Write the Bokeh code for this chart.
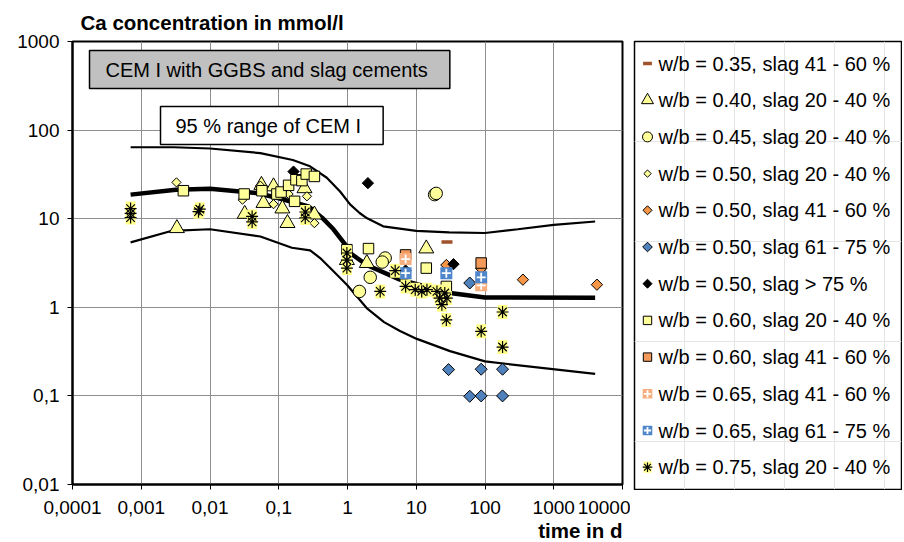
import numpy as np
from bokeh.plotting import figure
from bokeh.models import FixedTicker, Label, Title, Range1d
from bokeh.layouts import row
from bokeh.core.properties import value
from bokeh.embed import file_html
from bokeh.resources import INLINE

FONT = "Liberation Sans"

# ---------------- data ----------------
x_ticks = [0.0001, 0.001, 0.01, 0.1, 1, 10, 100, 1000, 10000]
x_tick_keys = ["0.0001", "0.001", "0.01", "0.1", "1", "10", "100", "1000", "10000"]
x_tick_labels = ["0,0001", "0,001", "0,01", "0,1", "1", "10", "100", "1000", "10000"]
y_ticks = [0.01, 0.1, 1, 10, 100, 1000]
y_tick_keys = ["0.01", "0.1", "1", "10", "100", "1000"]
y_tick_labels = ["0,01", "0,1", "1", "10", "100", "1000"]

# 95 % range of CEM I (upper, median, lower)
upper_x = [0.0007, 0.003, 0.01, 0.054, 0.16, 0.285, 0.5, 0.78, 1.09, 1.5, 1.93, 3.3, 10, 30, 100, 300, 1000, 4000]
upper_y = [64, 64, 62, 55, 46, 39, 29, 20.3, 14.5, 11.6, 10.1, 8.2, 7.3, 7.0, 6.9, 7.6, 8.5, 9.3]
mid_x = [0.0007, 0.0032, 0.01, 0.05, 0.1, 0.27, 0.43, 0.625, 0.93, 1.09, 1.9, 5.8, 31, 100, 4000]
mid_y = [18.7, 21.2, 21.8, 19.4, 17, 13.8, 10.2, 7.6, 5.1, 4.1, 3.0, 2.05, 1.45, 1.29, 1.28]
low_x = [0.0007, 0.0028, 0.01, 0.054, 0.155, 0.286, 0.4, 0.625, 0.98, 1.9, 3.4, 5.8, 10.2, 31, 100, 4000]
low_y = [5.4, 7.3, 7.6, 6.3, 4.7, 4.4, 3.6, 2.55, 1.8, 0.98, 0.68, 0.54, 0.44, 0.32, 0.245, 0.177]

labels = [
    "w/b = 0.35, slag 41 - 60 %",
    "w/b = 0.40, slag 20 - 40 %",
    "w/b = 0.45, slag 20 - 40 %",
    "w/b = 0.50, slag 20 - 40 %",
    "w/b = 0.50, slag 41 - 60 %",
    "w/b = 0.50, slag 61 - 75 %",
    "w/b = 0.50, slag > 75 %",
    "w/b = 0.60, slag 20 - 40 %",
    "w/b = 0.60, slag 41 - 60 %",
    "w/b = 0.65, slag 41 - 60 %",
    "w/b = 0.65, slag 61 - 75 %",
    "w/b = 0.75, slag 20 - 40 %",
]

s035_x = [28]
s035_y = [5.45]
s040_x = [0.0033, 0.032, 0.056, 0.06, 0.084, 0.113, 0.134, 0.237, 0.33, 0.98, 1.91, 14]
s040_y = [7.8, 11.3, 24, 15, 23.1, 13, 8.9, 22, 11.1, 3.4, 3.15, 4.6]
s045_x = [18.5, 19.5, 3.53, 3.2, 2.14, 1.49]
s045_y = [18.7, 19.3, 3.6, 3.24, 2.18, 1.51]
s050a_x = [0.00325, 0.0297, 0.054, 0.084, 0.139, 0.257, 0.33]
s050a_y = [25.7, 16.4, 23.6, 14.6, 19, 17.9, 8.9]
s050b_x = [356, 4246, 88, 27.4]
s050b_y = [2.05, 1.8, 2.75, 3.0]
s050c_x = [29.5, 88, 180, 60, 88, 180, 60]
s050c_y = [0.198, 0.2, 0.2, 0.099, 0.1, 0.1, 1.88]
s050d_x = [0.164, 1.98, 34.8, 7]
s050d_y = [34, 25.2, 3.07, 2.6]
s060a_x = [0.0041, 0.0314, 0.0569, 0.094, 0.108, 0.139, 0.17, 0.178, 0.217, 0.251, 0.33, 0.98, 2.02, 14, 27.4]
s060a_y = [20.7, 19, 20.7, 19, 20, 23.8, 15.7, 27.5, 26.9, 31.9, 30, 4.47, 4.6, 2.77, 1.72]
s060b_x = [7, 88]
s060b_y = [3.9, 3.16]
s065a_x = [7, 88]
s065a_y = [3.5, 1.77]
s065b_x = [7, 27.4, 88]
s065b_y = [2.43, 2.43, 2.18]
s075_x = [0.0007, 0.0007, 0.0007, 0.0068, 0.0071, 0.041, 0.041, 0.243, 0.243, 0.98, 0.98, 0.98,
          2.99, 4.94, 7, 9.66, 12, 14.3, 20, 21.8, 23.6, 26, 27.4, 27.9, 180, 88, 180]
s075_y = [13.0, 11.5, 10.3, 12.0, 12.8, 10.6, 9.2, 11.9, 10.2, 4.1, 3.4, 2.77,
          1.51, 2.59, 1.72, 1.58, 1.51, 1.58, 1.51, 1.27, 1.07, 1.45, 0.72, 1.27, 0.885, 0.535, 0.356]

series = [
    (s035_x, s035_y, "dash"),
    (s040_x, s040_y, "tri"),
    (s045_x, s045_y, "circ"),
    (s050a_x, s050a_y, "dia_y"),
    (s050b_x, s050b_y, "dia_o"),
    (s050c_x, s050c_y, "dia_b"),
    (s050d_x, s050d_y, "dia_k"),
    (s060a_x, s060a_y, "sq_y"),
    (s060b_x, s060b_y, "sq_o"),
    (s065a_x, s065a_y, "plus_o"),
    (s065b_x, s065b_y, "plus_b"),
    (s075_x, s075_y, "star"),
]

YEL = "#FFFF99"
BROWN = "#A0522D"
ORANGE = "#F79646"
ORANGE_SQ = "#F39A5B"
ORANGE_PL = "#F8AD7E"
BLUE = "#4F81BD"
BLUE_PL = "#4F86CB"
ROT = np.pi / 4


def draw(fig, xs, ys, kind, k=1.0):
    if kind == "dash":
        fig.scatter(xs, ys, marker="dash", size=11 * k, line_color=BROWN, line_width=3.5)
    elif kind == "tri":
        fig.scatter(xs, ys, marker="triangle", size=15 * k, fill_color=YEL, line_color="black", line_width=1)
    elif kind == "circ":
        fig.scatter(xs, ys, marker="circle", size=12.5 * k, fill_color=YEL, line_color="black", line_width=1)
    elif kind == "dia_y":
        fig.scatter(xs, ys, marker="square", angle=ROT, size=6.5 * k, fill_color=YEL, line_color="black", line_width=1)
    elif kind == "dia_o":
        fig.scatter(xs, ys, marker="square", angle=ROT, size=8 * k, fill_color=ORANGE, line_color="black", line_width=1)
    elif kind == "dia_b":
        fig.scatter(xs, ys, marker="square", angle=ROT, size=8.5 * k, fill_color=BLUE, line_color="black", line_width=1)
    elif kind == "dia_k":
        fig.scatter(xs, ys, marker="square", angle=ROT, size=8 * k, fill_color="black", line_color="black", line_width=1)
    elif kind == "sq_y":
        fig.scatter(xs, ys, marker="square", size=10.5 * k, fill_color=YEL, line_color="black", line_width=1)
    elif kind == "sq_o":
        fig.scatter(xs, ys, marker="square", size=10.5 * k, fill_color=ORANGE_SQ, line_color="black", line_width=1)
    elif kind == "plus_o":
        fig.scatter(xs, ys, marker="square", size=12 * k, fill_color=ORANGE_PL, line_color=None)
        fig.scatter(xs, ys, marker="cross", size=9 * k, line_color="white", line_width=1.8)
    elif kind == "plus_b":
        fig.scatter(xs, ys, marker="square", size=12 * k, fill_color=BLUE_PL, line_color=None)
        fig.scatter(xs, ys, marker="cross", size=9 * k, line_color="white", line_width=1.8)
    elif kind == "star":
        fig.rect(xs, ys, width=10 * k, height=14 * k, width_units="screen", height_units="screen",
                 fill_color="#FFFF88", line_color=None)
        fig.scatter(xs, ys, marker="asterisk", size=12 * k, line_color="black", line_width=1.2)


# ---------------- main plot ----------------
p = figure(x_axis_type="log", y_axis_type="log",
           x_range=Range1d(1e-4, 1e4), y_range=Range1d(0.01, 1000),
           frame_width=550, frame_height=443,
           min_border_left=72, min_border_right=8, min_border_top=40, min_border_bottom=10,
           output_backend="svg", toolbar_location=None)

p.title.text = "Ca concentration in mmol/l"
p.title.align = "left"
p.title.offset = 8
p.title.text_font = FONT
p.title.text_font_size = "20.5px"
p.title.text_font_style = "bold"
p.title.text_color = "black"
p.title.standoff = 16

p.add_layout(Title(text="time in d", align="right", text_font=FONT, text_font_size="20.5px",
                   text_font_style="bold", text_color="black", standoff=0), "below")

p.xaxis.ticker = FixedTicker(ticks=x_ticks, minor_ticks=[])
p.yaxis.ticker = FixedTicker(ticks=y_ticks, minor_ticks=[])
xo = {}
for t, k_, l in zip(x_ticks, x_tick_keys, x_tick_labels):
    xo[float(t)] = l
    xo[k_] = l
yo = {}
for t, k_, l in zip(y_ticks, y_tick_keys, y_tick_labels):
    yo[float(t)] = l
    yo[k_] = l
p.xaxis.major_label_overrides = xo
p.yaxis.major_label_overrides = yo
for ax in (p.xaxis, p.yaxis):
    ax.major_label_text_font = FONT
    ax.major_label_text_font_size = "19px"
    ax.major_label_text_color = "black"
    ax.axis_line_color = "black"
    ax.axis_line_width = 2
    ax.major_tick_line_color = "black"
    ax.major_tick_in = 0
    ax.major_tick_out = 5
    ax.minor_tick_line_color = None
p.yaxis.major_label_standoff = 8
p.xaxis.major_label_standoff = 11

p.grid.grid_line_color = "#8E8E8E"
p.grid.grid_line_width = 1
p.outline_line_color = "black"
p.outline_line_width = 2
p.background_fill_color = "white"
p.border_fill_color = "white"

p.line(upper_x, upper_y, line_color="black", line_width=2.2)
p.line(low_x, low_y, line_color="black", line_width=2.2)
p.line(mid_x, mid_y, line_color="black", line_width=4.5)

for xs, ys, kind in series:
    draw(p, xs, ys, kind)

p.add_layout(Label(x=17, y=434, x_units="screen", y_units="screen",
                   text="CEM I with GGBS and slag cements",
                   text_font=FONT, text_font_size="20px", text_color="black",
                   text_align="left", text_baseline="top",
                   background_fill_color="#C0C0C0", border_line_color="black", border_line_width=1.5,
                   padding=dict(left=16, right=22, top=8, bottom=8)))
p.add_layout(Label(x=88, y=378, x_units="screen", y_units="screen",
                   text="95 % range of CEM I",
                   text_font=FONT, text_font_size="20px", text_color="black",
                   text_align="left", text_baseline="top",
                   background_fill_color="white", border_line_color="black", border_line_width=1.5,
                   padding=dict(left=15, right=22, top=8, bottom=8)))

# ---------------- legend panel ----------------
lg = figure(x_range=Range1d(0, 267), y_range=Range1d(448, 0),
            frame_width=267, frame_height=448,
            min_border_left=4, min_border_right=1, min_border_top=40, min_border_bottom=2,
            x_axis_location=None, y_axis_location=None,
            output_backend="svg", toolbar_location=None)
lg.outline_line_color = "black"
lg.outline_line_width = 1.5
lg.background_fill_color = "white"
lg.border_fill_color = "white"

ly = 22 + np.arange(len(labels)) * 36.7
for i, (xs, ys, kind) in enumerate(series):
    draw(lg, [13], [ly[i]], kind, k=0.8)
lg.text(x=[24] * len(labels), y=list(ly), text=labels, text_font=value(FONT),
        text_font_size="20px", text_baseline="middle", text_align="left", text_color="black")

layout = row(p, lg)
open("out.html", "w").write(file_html(layout, INLINE))
